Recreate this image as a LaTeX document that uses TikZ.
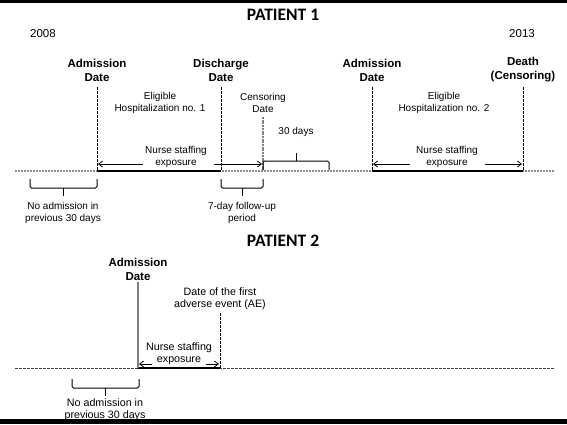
\documentclass[tikz,border=0pt]{standalone}
\usepackage{fontspec}
\setmainfont{Liberation Sans}
\newfontfamily\calib{Carlito}
\usetikzlibrary{arrows.meta}
\begin{document}
\begin{tikzpicture}[x=1pt,y=-1pt,
  lab/.style={font=\fontsize{10}{12.5}\selectfont, align=center, inner sep=0pt},
  lab2/.style={font=\fontsize{10.7}{12}\selectfont, align=center, inner sep=0pt},
  ylab/.style={font=\fontsize{11.5}{14}\selectfont, inner sep=0pt},
  blab/.style={font=\fontsize{11.5}{14}\selectfont\bfseries, align=center, inner sep=0pt},
  ttl/.style={font=\calib\fontsize{17.5}{20}\selectfont\bfseries, inner sep=0pt},
  tline/.style={black!45, line width=1.3pt, dash pattern=on 2pt off 1pt},
  tline2/.style={black!75, line width=1pt, dash pattern=on 3pt off 1pt},
  seg/.style={line width=2.2pt},
  vdash/.style={line width=0.6pt, dash pattern=on 3pt off 1pt},
  gvline/.style={gray, line width=1.2pt, dash pattern=on 2pt off 0.7pt},
  arr/.style={-{Straight Barb[length=4pt,width=6pt]}, line width=0.8pt},
  brk/.style={line width=1pt, rounded corners=1.5pt}
]
\useasboundingbox (0,0) rectangle (567,424);
\fill (0,0) rectangle (567,3);
\fill (0,419) rectangle (567,424);

% ---------- PATIENT 1 ----------
\node[ttl] (t1) at (283,15) {PATIENT 1};
\node[ylab] (y1) at (43,34) {2008};
\node[ylab] (y2) at (522,34) {2013};
\node[blab] (ad1) at (97,70) {Admission\\Date};
\node[blab] (dc1) at (221,70) {Discharge\\Date};
\node[blab] (ad2) at (372,70) {Admission\\Date};
\node[blab] (dt) at (523,70) {Death\\(Censoring)};
\node[lab] (eh1) at (160,103) {Eligible\\Hospitalization no. 1};
\node[lab] (cd) at (263,103) {Censoring\\Date};
\node[lab] (eh2) at (444,103) {Eligible\\Hospitalization no. 2};
\node[lab] (d30) at (296,132) {30 days};
\node[lab] (ns1) at (176,157) {Nurse staffing\\exposure};
\node[lab] (ns2) at (447,157) {Nurse staffing\\exposure};
\node[lab] (na1) at (63,213) {No admission in\\previous 30 days};
\node[lab] (fu) at (242,213) {7-day follow-up\\period};

\coordinate (L1) at (15,171);
\coordinate (R1) at (555,171);
\coordinate (a1) at (97,171);  \coordinate (a1t) at (97,87);
\coordinate (d1) at (221,171); \coordinate (d1t) at (221,87);
\coordinate (c1) at (263,171); \coordinate (c1t) at (263,117);
\coordinate (a2) at (372,171); \coordinate (a2t) at (372,87);
\coordinate (x2) at (523,171); \coordinate (x2t) at (523,87);

\draw[tline] (L1) -- (R1);
\draw[seg] (a1) -- (d1);
\draw[seg] (a2) -- (x2);
\draw[vdash] (a1t) -- (a1);
\draw[vdash] (d1t) -- (d1);
\draw[gvline] (c1t) -- (c1);
\draw[vdash] (a2t) -- (a2);
\draw[vdash] (x2t) -- (x2);

\coordinate (n1l) at (143,164); \coordinate (n1le) at (98,164);
\coordinate (n1r) at (214,164); \coordinate (n1re) at (262,164);
\coordinate (n2l) at (410,164); \coordinate (n2le) at (373,164);
\coordinate (n2r) at (485,164); \coordinate (n2re) at (522,164);
\draw[arr] (n1l) -- (n1le);
\draw[arr] (n1r) -- (n1re);
\draw[arr] (n2l) -- (n2le);
\draw[arr] (n2r) -- (n2re);

% brackets
\draw[brk] (263,170) -- (263,161) -- (329,161) -- (329,170);
\draw[line width=1pt] (296,161) -- (296,153);
\draw[brk] (30,179) -- (30,188) -- (97,188) -- (97,179);
\draw[line width=1pt] (63,188) -- (63,196);
\draw[brk] (221,179) -- (221,188) -- (263,188) -- (263,179);
\draw[line width=1pt] (242,188) -- (242,196);

% ---------- PATIENT 2 ----------
\node[ttl] (t2) at (283,241) {PATIENT 2};
\node[blab] (ad3) at (138,269) {Admission\\Date};
\node[lab2] (ae) at (220,299) {Date of the first\\adverse event (AE)};
\node[lab2] (ns3) at (179,354) {Nurse staffing\\exposure};
\node[lab2] (na2) at (105,410) {No admission in\\previous 30 days};

\coordinate (L2) at (15,368);
\coordinate (R2) at (555,368);
\coordinate (a3) at (138,368); \coordinate (a3t) at (138,282);
\coordinate (e3) at (220,368); \coordinate (e3t) at (220,313);
\draw[tline2] (L2) -- (R2);
\draw[seg] (a3) -- (e3);
\draw[gray, line width=1.5pt] (a3t) -- (a3);
\draw[vdash] (e3t) -- (e3);

\coordinate (n3l) at (152,364); \coordinate (n3le) at (139,364);
\coordinate (n3r) at (206,364); \coordinate (n3re) at (219,364);
\draw[arr] (n3l) -- (n3le);
\draw[arr] (n3r) -- (n3re);

\draw[brk] (72,379) -- (72,388) -- (139,388) -- (139,379);
\draw[line width=1pt] (105,388) -- (105,396);
\end{tikzpicture}
\end{document}
